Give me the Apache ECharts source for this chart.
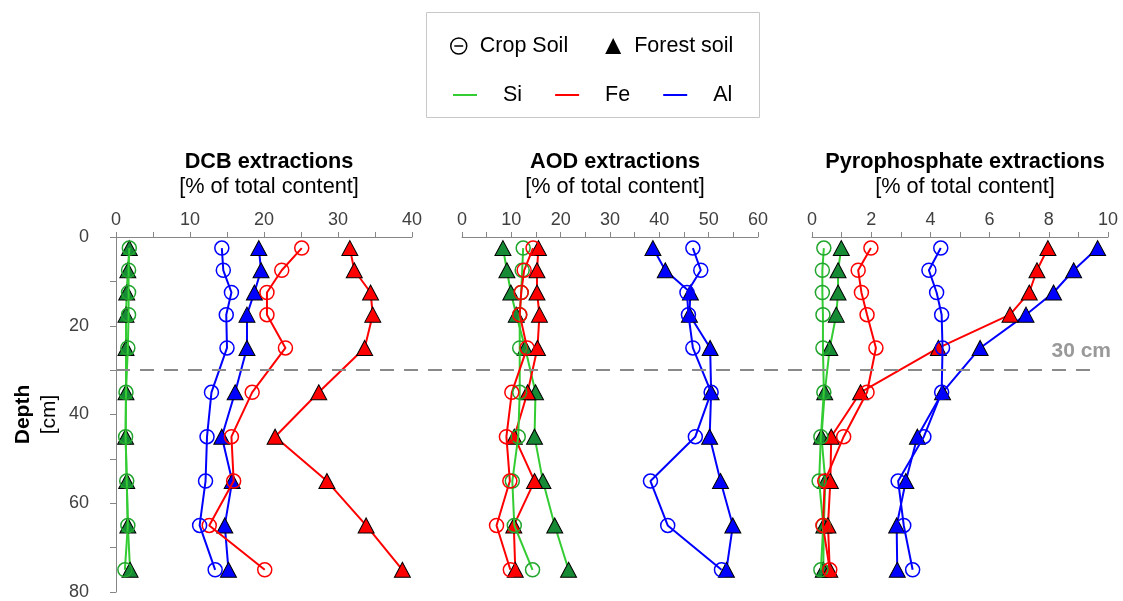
<!DOCTYPE html>
<html>
<head>
<meta charset="utf-8">
<script src="https://cdn.jsdelivr.net/npm/echarts@6/dist/echarts.min.js"></script>
<style>
html,body{margin:0;padding:0;background:#fff;}
#chart{width:1123px;height:601px;}
</style>
</head>
<body>
<div id="chart"></div>
<script>
// ---- data ----
var depths = [2.5, 7.5, 12.5, 17.5, 25, 35, 45, 55, 65, 75];

var panelTitles = ['DCB extractions', 'AOD extractions', 'Pyrophosphate extractions'];
var panelSubtitle = '[% of total content]';
var xMax = [40, 60, 10];
var xInterval = [10, 10, 2];
var yTicks = [0, 20, 40, 60, 80];

// DCB
var siCropDCB   = [1.8, 1.7, 1.7, 1.7, 1.6, 1.35, 1.3, 1.45, 1.6, 1.2];
var siForestDCB = [1.8, 1.6, 1.45, 1.35, 1.35, 1.35, 1.3, 1.45, 1.6, 1.9];
var feCropDCB   = [25.1, 22.4, 20.4, 20.4, 22.9, 18.4, 15.6, 15.9, 12.6, 20.1];
var feForestDCB = [31.6, 32.2, 34.4, 34.7, 33.6, 27.4, 21.5, 28.5, 33.8, 38.7];
var alCropDCB   = [14.3, 14.5, 15.6, 14.9, 15.0, 12.9, 12.3, 12.1, 11.3, 13.4];
var alForestDCB = [19.3, 19.6, 18.7, 17.7, 17.7, 16.1, 14.3, 15.7, 14.7, 15.2];
// AOD
var siCropAOD   = [12.4, 12.2, 12.0, 11.7, 11.7, 11.7, 11.4, 10.2, 10.6, 14.3];
var siForestAOD = [8.3, 9.1, 9.9, 11.0, 12.8, 14.9, 14.7, 16.4, 18.8, 21.6];
var feCropAOD   = [14.4, 12.6, 12.0, 11.7, 13.2, 10.1, 9.0, 9.7, 7.0, 9.8];
var feForestAOD = [15.5, 15.2, 15.2, 15.7, 15.3, 13.3, 10.6, 14.7, 10.5, 10.8];
var alCropAOD   = [46.8, 48.4, 45.6, 45.9, 46.8, 50.5, 47.3, 38.2, 41.7, 52.6];
var alForestAOD = [38.7, 41.2, 46.3, 46.1, 50.3, 50.5, 50.2, 52.4, 54.9, 53.6];
// Pyrophosphate
var siCropPyro   = [0.40, 0.35, 0.35, 0.37, 0.37, 0.40, 0.30, 0.24, 0.38, 0.30];
var siForestPyro = [0.99, 0.88, 0.88, 0.82, 0.60, 0.43, 0.32, 0.45, 0.40, 0.38];
var feCropPyro   = [1.99, 1.56, 1.67, 1.86, 2.16, 1.86, 1.07, 0.43, 0.37, 0.60];
var feForestPyro = [7.97, 7.60, 7.34, 6.69, 4.27, 1.64, 0.65, 0.62, 0.54, 0.60];
var alCropPyro   = [4.35, 3.95, 4.21, 4.38, 4.41, 4.38, 3.78, 2.91, 3.10, 3.40];
var alForestPyro = [9.65, 8.84, 8.16, 7.23, 5.68, 4.41, 3.56, 3.17, 2.86, 2.88];

var refDepth = 30;
var refLabel = '30 cm';

// ---- styles ----
var FONT = '"Liberation Sans", Arial, sans-serif';
var C = {
  Si: {line: '#33cc33', circle: '#22a52e', fill: '#168a34'},
  Fe: {line: '#ff0000', circle: '#ff0000', fill: '#ff0000'},
  Al: {line: '#0000ff', circle: '#0000ff', fill: '#0000ff'}
};

var panels = [
  {Si: [siCropDCB, siForestDCB], Fe: [feCropDCB, feForestDCB], Al: [alCropDCB, alForestDCB]},
  {Si: [siCropAOD, siForestAOD], Fe: [feCropAOD, feForestAOD], Al: [alCropAOD, alForestAOD]},
  {Si: [siCropPyro, siForestPyro], Fe: [feCropPyro, feForestPyro], Al: [alCropPyro, alForestPyro]}
];

var gridLefts = [116, 462, 812];
var gridW = 296, gridTop = 237, gridH = 355;

function pairs(xs) { return xs.map(function (v, i) { return [v, depths[i]]; }); }

var grids = [], xAxes = [], yAxes = [], series = [], titles = [];

gridLefts.forEach(function (l, p) {
  grids.push({left: l, top: gridTop, width: gridW, height: gridH, containLabel: false});
  xAxes.push({
    type: 'value', gridIndex: p, position: 'top', min: 0, max: xMax[p], interval: xInterval[p],
    axisLine: {show: true, lineStyle: {color: '#868686', width: 1}},
    axisTick: {show: true, inside: false, length: 5, lineStyle: {color: '#868686'}},
    minorTick: {show: true, splitNumber: 2, length: 5, lineStyle: {color: '#868686'}},
    splitLine: {show: false},
    axisLabel: {fontFamily: FONT, fontSize: 18, color: '#404040', margin: 8}
  });
  yAxes.push({
    type: 'value', gridIndex: p, inverse: true, min: 0, max: 80, interval: 20,
    show: p === 0,
    axisLine: {show: true, lineStyle: {color: '#868686', width: 1}},
    axisTick: {show: true, inside: false, length: 6, lineStyle: {color: '#868686'}},
    minorTick: {show: true, splitNumber: 2, length: 6, lineStyle: {color: '#868686'}},
    splitLine: {show: false},
    axisLabel: {fontFamily: FONT, fontSize: 18, color: '#404040', margin: 27},
    name: p === 0 ? '{a|Depth}\n{b|[cm]}' : '',
    nameLocation: 'middle', nameRotate: 90, nameGap: 54,
    nameTextStyle: {
      fontFamily: FONT, lineHeight: 26,
      rich: {a: {fontSize: 21, fontWeight: 'bold', color: '#000', fontFamily: FONT, lineHeight: 26},
             b: {fontSize: 21, color: '#000', fontFamily: FONT, lineHeight: 26}}
    }
  });
  titles.push({
    text: panelTitles[p], subtext: panelSubtitle,
    left: l + gridW / 2, top: 146, textAlign: 'center', itemGap: 3,
    textStyle: {fontFamily: FONT, fontSize: 21.7, fontWeight: 'bold', color: '#000'},
    subtextStyle: {fontFamily: FONT, fontSize: 21.7, color: '#000'}
  });
  ['Si', 'Fe', 'Al'].forEach(function (el) {
    var c = C[el];
    series.push({
      name: el + ' forest ' + p, type: 'line', xAxisIndex: p, yAxisIndex: p,
      data: pairs(panels[p][el][1]),
      symbol: 'triangle', symbolSize: [16, 15],
      itemStyle: {color: c.fill, borderColor: '#000', borderWidth: 1},
      lineStyle: {color: c.line, width: 2}, z: 2
    });
  });
  ['Si', 'Fe', 'Al'].forEach(function (el) {
    var c = C[el];
    series.push({
      name: el + ' crop ' + p, type: 'line', xAxisIndex: p, yAxisIndex: p,
      data: pairs(panels[p][el][0]),
      symbol: 'circle', symbolSize: 14,
      itemStyle: {color: 'rgba(0,0,0,0)', borderColor: c.circle, borderWidth: 1.5},
      lineStyle: {color: c.line, width: 2}, z: 3
    });
  });
});

// overlay grid for the reference depth line spanning all panels
grids.push({left: 116, top: gridTop, width: 976, height: gridH});
xAxes.push({type: 'value', gridIndex: 3, min: 0, max: 1, show: false});
yAxes.push({type: 'value', gridIndex: 3, inverse: true, min: 0, max: 80, show: false});
series.push({
  name: 'ref', type: 'line', xAxisIndex: 3, yAxisIndex: 3, data: [],
  markLine: {silent: true, symbol: 'none', animation: false,
    lineStyle: {color: '#8a8a8a', width: 2, type: [14, 10]},
    label: {show: false},
    data: [{yAxis: refDepth}]}
});

// legend-only series
['Crop Soil', 'Forest soil', 'Si', 'Fe', 'Al'].forEach(function (n) {
  var col = n === 'Si' ? C.Si.line : n === 'Fe' ? C.Fe.line : n === 'Al' ? C.Al.line : '#000';
  series.push({name: n, type: 'line', xAxisIndex: 3, yAxisIndex: 3, data: [],
    itemStyle: {color: col}, lineStyle: {color: col}});
});

var option = {
  animation: false,
  backgroundColor: '#fff',
  title: titles,
  grid: grids,
  xAxis: xAxes,
  yAxis: yAxes,
  legend: [
    {
      left: 445, top: 30, orient: 'horizontal', itemWidth: 16, itemHeight: 16, itemGap: 37,
      selectedMode: false,
      textStyle: {fontFamily: FONT, fontSize: 21.5, color: '#000', padding: [0, 0, 0, 8]},
      data: [
        {name: 'Crop Soil', icon: 'path://M1,10 A9,9 0 1,1 19,10 A9,9 0 1,1 1,10 Z M5,10 L15,10',
         itemStyle: {color: 'rgba(0,0,0,0)', borderColor: '#000', borderWidth: 1.5}},
        {name: 'Forest soil', icon: 'triangle', itemStyle: {color: '#000', borderWidth: 0}}
      ]
    },
    {
      left: 448, top: 79, orient: 'horizontal', itemWidth: 24, itemHeight: 2, itemGap: 33,
      selectedMode: false, icon: 'rect',
      itemStyle: {borderWidth: 0},
      textStyle: {fontFamily: FONT, fontSize: 21.5, color: '#000', padding: [0, 0, 0, 21]},
      data: ['Si', 'Fe', 'Al']
    }
  ],
  graphic: [
    {type: 'rect', shape: {x: 426.5, y: 12.5, width: 333, height: 105},
     style: {fill: 'none', stroke: '#c8c8c8', lineWidth: 1}, silent: true},
    {type: 'text', x: 1111, y: 351,
     style: {text: refLabel, fontFamily: FONT, fontSize: 21, fontWeight: 'bold', fill: '#999999',
             align: 'right', verticalAlign: 'middle'}, silent: true}
  ],
  series: series
};

var chart = echarts.init(document.getElementById('chart'), null, {renderer: 'canvas'});
chart.setOption(option);
</script>
</body>
</html>
